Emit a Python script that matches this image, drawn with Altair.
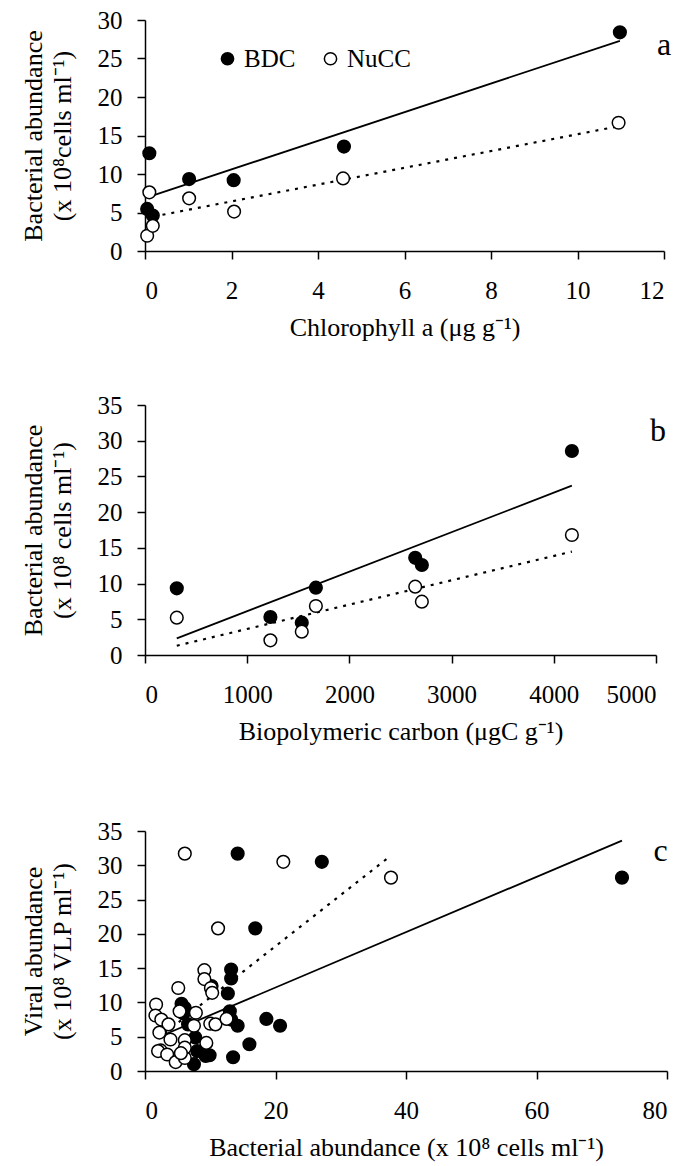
import altair as alt
import pandas as pd

FONT = "Liberation Serif"

# ---------------- panel a ----------------
a_x_bdc = [0.05, 0.10, 0.18, 1.02, 2.05, 4.60, 10.98]
a_y_bdc = [5.47, 12.7, 4.60, 9.34, 9.20, 13.56, 28.4]
a_x_nucc = [0.05, 0.10, 0.18, 1.02, 2.06, 4.58, 10.95]
a_y_nucc = [1.98, 7.62, 3.27, 6.84, 5.12, 9.43, 16.66]
a_fit_bdc_x = [0.05, 10.98]
a_fit_bdc_y = [6.97, 27.3]
a_fit_nucc_x = [0.20, 10.95]
a_fit_nucc_y = [4.48, 16.2]

# ---------------- panel b ----------------
b_x_bdc = [311, 1227, 1534, 1672, 2644, 2709, 4177]
b_y_bdc = [9.33, 5.32, 4.53, 9.43, 13.6, 12.6, 28.56]
b_x_nucc = [311, 1227, 1534, 1672, 2644, 2709, 4177]
b_y_nucc = [5.23, 2.05, 3.27, 6.86, 9.57, 7.47, 16.8]
b_fit_bdc_x = [311, 4177]
b_fit_bdc_y = [2.33, 23.7]
b_fit_nucc_x = [311, 4177]
b_fit_nucc_y = [1.30, 14.47]

# ---------------- panel c ----------------
c_x_bdc = [14.2, 27.1, 73.1, 16.9, 13.2, 13.2, 12.7, 10.2, 13.0, 13.2, 14.2, 18.6,
           20.7, 16.0, 13.5, 9.9, 9.3, 7.5, 5.6, 6.1, 7.7, 8.0, 6.6, 5.9]
c_y_bdc = [31.7, 30.5, 28.2, 20.8, 14.8, 13.5, 11.3, 12.4, 8.7, 7.5, 6.6, 7.6,
           6.6, 3.9, 2.0, 2.3, 2.2, 1.0, 9.8, 9.2, 4.9, 2.9, 6.8, 8.4]
c_x_nucc = [6.1, 21.2, 37.7, 11.2, 9.1, 9.1, 5.1, 10.1, 10.3, 1.7, 1.6, 2.5, 3.6,
            2.2, 3.9, 2.4, 2.0, 3.4, 4.7, 6.1, 6.1, 6.1, 5.3, 7.8, 7.5, 9.4, 10.0,
            10.8, 12.5, 5.5]
c_y_nucc = [31.7, 30.5, 28.2, 20.8, 14.7, 13.4, 12.1, 12.1, 11.4, 9.7, 8.1, 7.5, 6.8,
            5.6, 4.6, 3.0, 2.9, 2.4, 1.3, 1.9, 4.5, 3.4, 8.7, 8.5, 6.6, 4.1, 6.9,
            6.8, 7.6, 2.6]
c_fit_bdc_x = [3.2, 73.1]
c_fit_bdc_y = [5.4, 33.6]
c_fit_nucc_x = [3.0, 37.4]
c_fit_nucc_y = [5.5, 31.2]

series = ["BDC", "NuCC"]
letters = ["a", "b", "c"]
letter_pos = [(12.0, 26.7), (5020, 31.3), (79.0, 32.1)]


def points_df(xb, yb, xn, yn):
    return pd.DataFrame({
        "x": list(xb) + list(xn),
        "y": list(yb) + list(yn),
        "s": [series[0]] * len(xb) + [series[1]] * len(xn),
    })


def panel(xb, yb, xn, yn, fbx, fby, fnx, fny, letter, lpos,
          xdom, xstep, ydom, ystep, xtitle, ytitle, w, h, legend):
    xs = alt.Scale(domain=xdom, nice=False, zero=False)
    ys = alt.Scale(domain=ydom, nice=False)
    xvals = list(range(xdom[0], xdom[1] + 1, xstep))
    yvals = list(range(ydom[0], ydom[1] + 1, ystep))
    xax = alt.Axis(values=xvals, title=xtitle, format="d", labelOverlap=False,
                   labelPadding=19, titlePadding=11)
    yax = alt.Axis(values=yvals, title=ytitle, format="d", labelOverlap=False,
                   labelPadding=15, titlePadding=22)

    def X():
        return alt.X("x:Q", scale=xs, axis=xax)

    def Y():
        return alt.Y("y:Q", scale=ys, axis=yax)

    fit_b = alt.Chart(pd.DataFrame({"x": fbx, "y": fby})).mark_line(
        color="black", strokeWidth=1.8
    ).encode(x=X(), y=Y())
    fit_n = alt.Chart(pd.DataFrame({"x": fnx, "y": fny})).mark_line(
        color="black", strokeWidth=2.2, strokeDash=[3, 6]
    ).encode(x=X(), y=Y())

    fill_kwargs = dict(scale=alt.Scale(domain=series, range=["black", "white"]))
    if legend:
        leg = alt.Legend(orient="none", legendX=70, legendY=26, direction="horizontal",
                         title=None, labelFont=FONT, labelFontSize=25, labelColor="black",
                         symbolType="circle", symbolSize=150, symbolStrokeColor="black",
                         symbolStrokeWidth=1.5, columnPadding=22, labelOffset=4)
        fill_enc = alt.Fill("s:N", legend=leg, **fill_kwargs)
    else:
        fill_enc = alt.Fill("s:N", legend=None, **fill_kwargs)

    pts = alt.Chart(points_df(xb, yb, xn, yn)).mark_point(
        filled=True, stroke="black", strokeWidth=1.5, size=160, opacity=1
    ).encode(x=X(), y=Y(), fill=fill_enc)

    lab = alt.Chart(pd.DataFrame({"x": [lpos[0]], "y": [lpos[1]], "t": [letter]})).mark_text(
        font=FONT, fontSize=32, color="black", align="center", baseline="middle"
    ).encode(x=X(), y=Y(), text="t:N")

    return alt.layer(fit_b, fit_n, pts, lab).properties(width=w, height=h)


pa = panel(a_x_bdc, a_y_bdc, a_x_nucc, a_y_nucc, a_fit_bdc_x, a_fit_bdc_y,
           a_fit_nucc_x, a_fit_nucc_y, letters[0], letter_pos[0],
           [0, 12], 2, [0, 30], 5, "Chlorophyll a  (μg g⁻¹)",
           ["Bacterial abundance", "(x 10⁸cells ml⁻¹)"], 519, 231, True)
pb = panel(b_x_bdc, b_y_bdc, b_x_nucc, b_y_nucc, b_fit_bdc_x, b_fit_bdc_y,
           b_fit_nucc_x, b_fit_nucc_y, letters[1], letter_pos[1],
           [0, 5000], 1000, [0, 35], 5, "Biopolymeric carbon (μgC g⁻¹)",
           ["Bacterial abundance", "(x 10⁸ cells ml⁻¹)"], 511, 250, False)
pc = panel(c_x_bdc, c_y_bdc, c_x_nucc, c_y_nucc, c_fit_bdc_x, c_fit_bdc_y,
           c_fit_nucc_x, c_fit_nucc_y, letters[2], letter_pos[2],
           [0, 80], 20, [0, 35], 5, "Bacterial abundance (x 10⁸ cells ml⁻¹)",
           ["Viral abundance", "(x 10⁸ VLP ml⁻¹)"], 522, 240, False)

top = alt.vconcat(pa, pb, spacing=53).resolve_scale(fill="independent")
chart = alt.vconcat(top, pc, spacing=75).resolve_scale(fill="independent").properties(
    padding={"top": 0, "left": 12, "right": 5, "bottom": 5}
).configure_view(strokeWidth=0).configure_axis(
    grid=False, domainColor="black", domainWidth=1.5, tickColor="black", tickWidth=1.5,
    tickSize=8, labelFont=FONT, labelFontSize=25, labelColor="black",
    titleFont=FONT, titleFontSize=26, titleFontWeight="normal", titleColor="black",
    titleLineHeight=29
)

chart.save("out.html", embed_options={"renderer": "svg", "actions": False})
